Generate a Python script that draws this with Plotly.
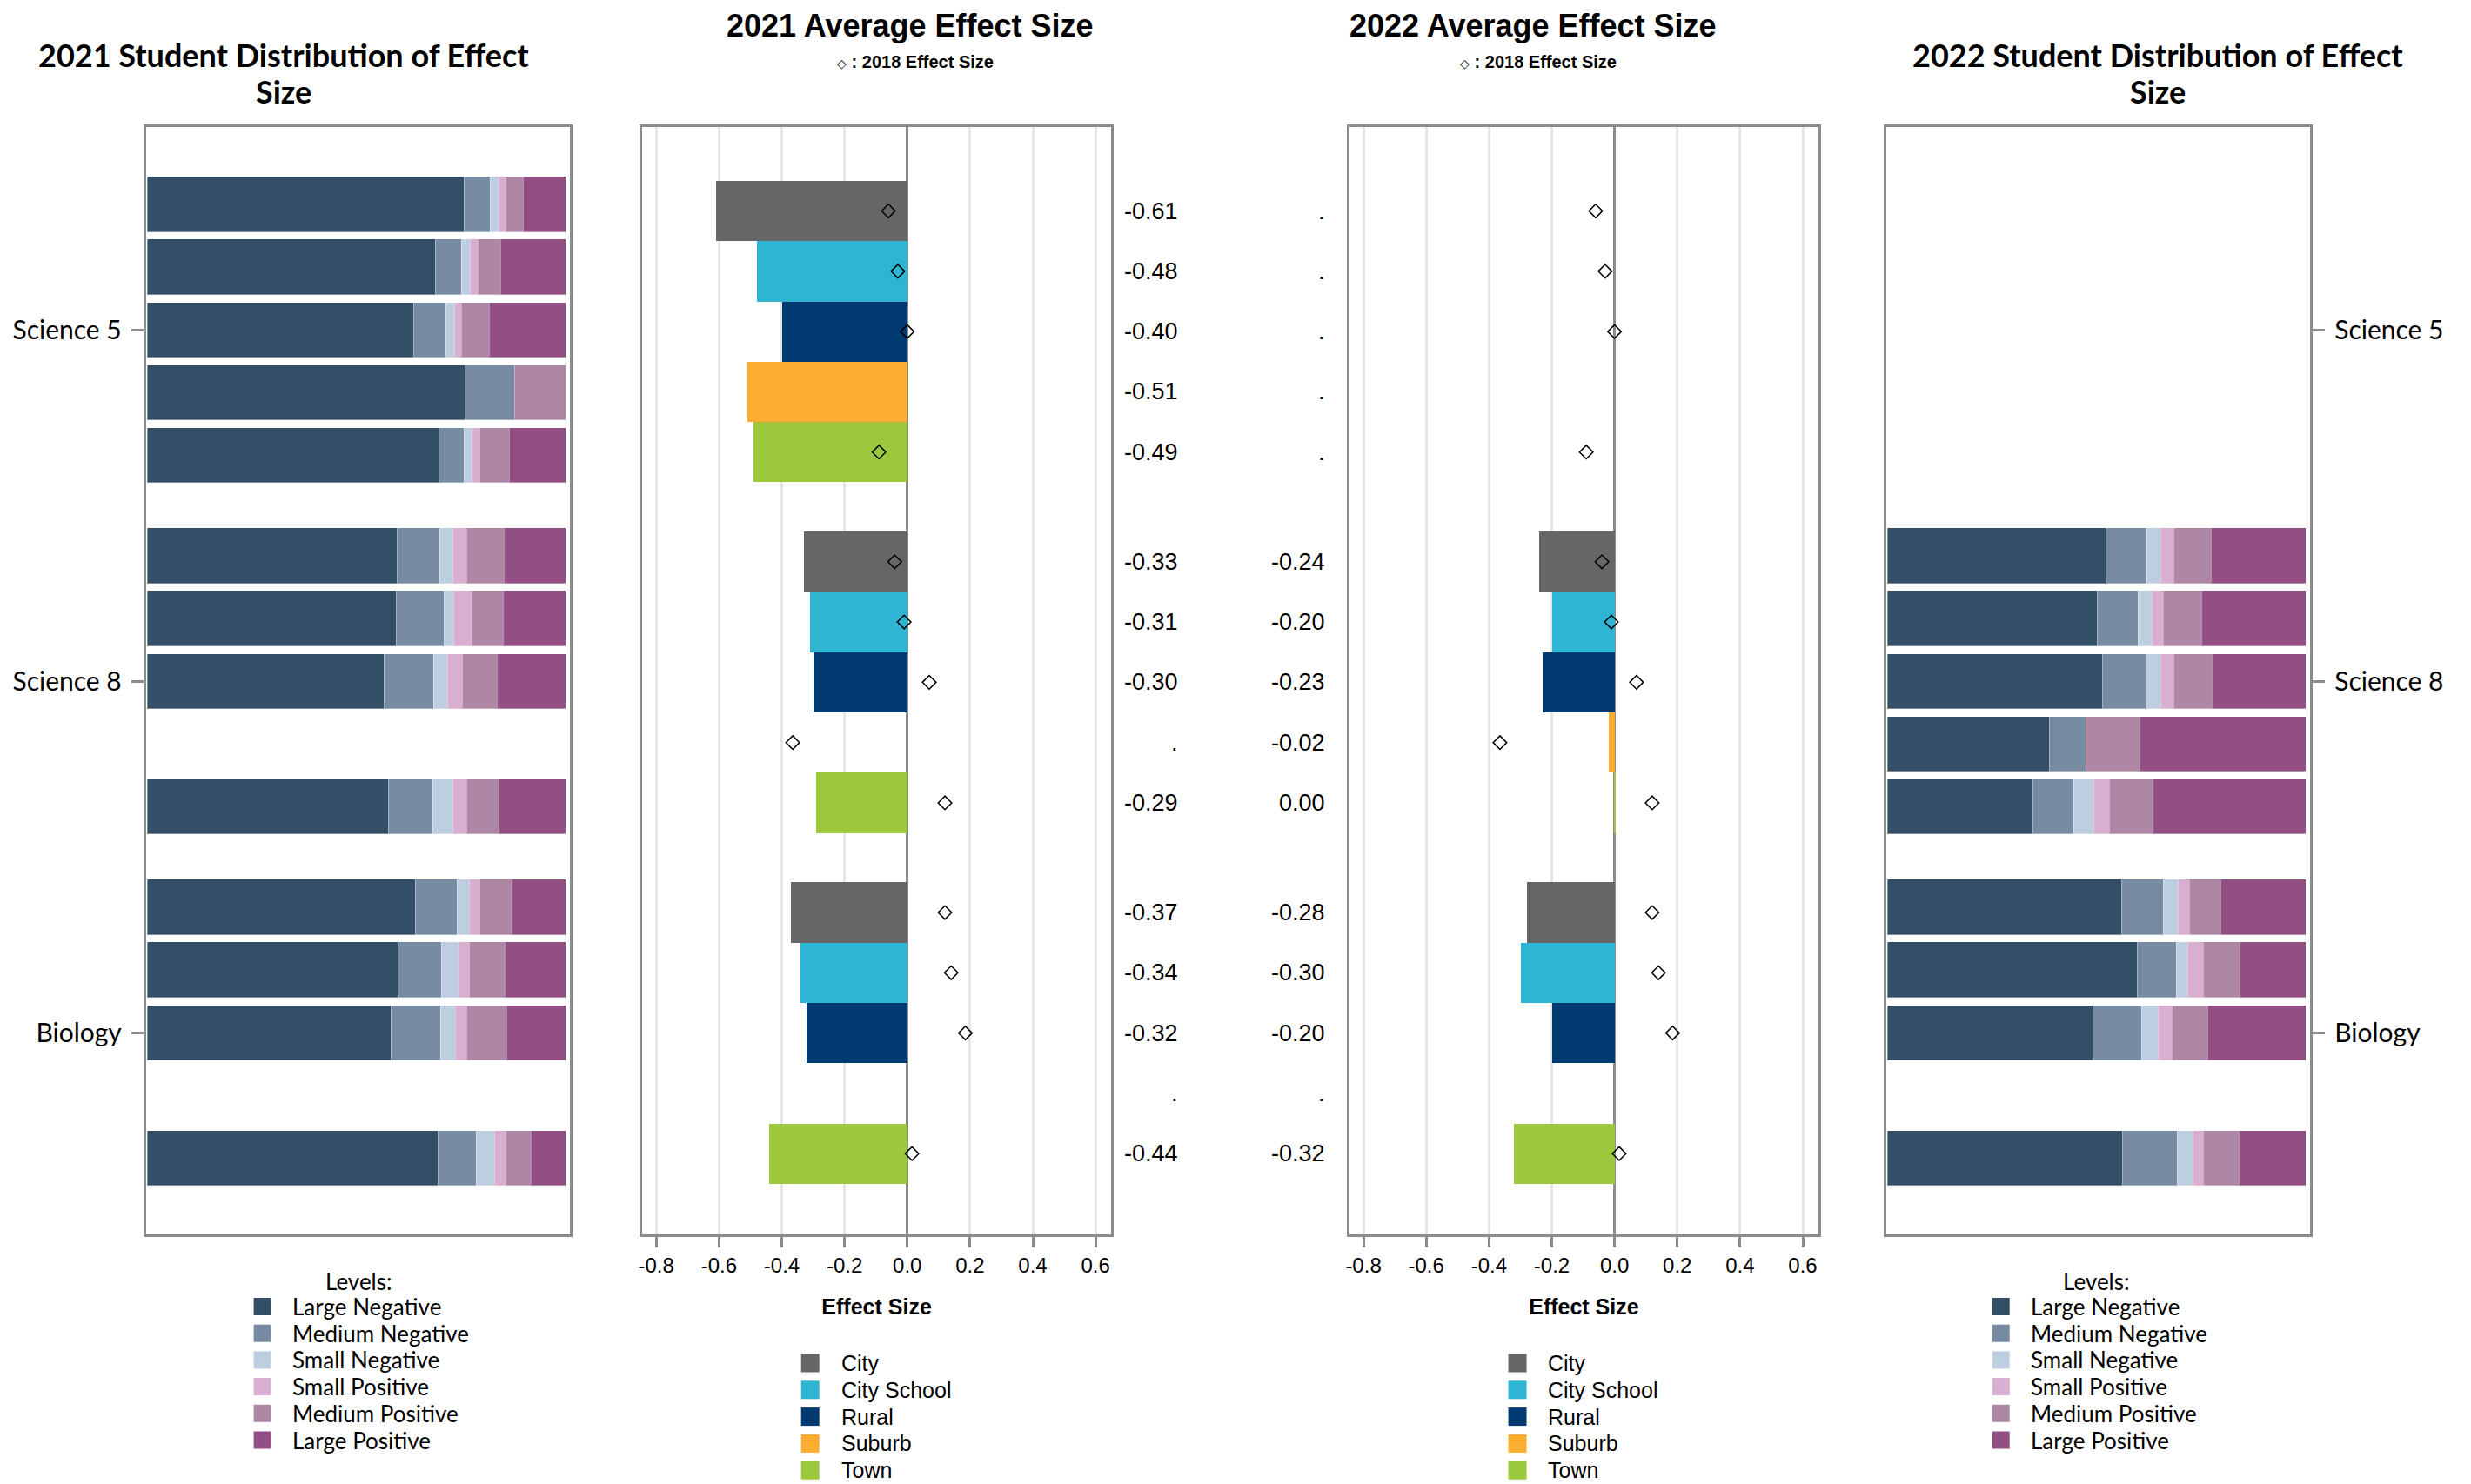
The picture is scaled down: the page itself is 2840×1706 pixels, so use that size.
import plotly.graph_objects as go

W, H = 2840, 1706

subjects = ["Science 5", "Science 8", "Biology"]
locales = ["City", "City School", "Rural", "Suburb", "Town"]
levels = ["Large Negative", "Medium Negative", "Small Negative",
          "Small Positive", "Medium Positive", "Large Positive"]

# rows ordered subject-major, locale-minor (Science 5: City..Town, Science 8, Biology)
avg_2021 = [-0.61, -0.48, -0.40, -0.51, -0.49,
            -0.33, -0.31, -0.30, None, -0.29,
            -0.37, -0.34, -0.32, None, -0.44]
avg_2022 = [None, None, None, None, None,
            -0.24, -0.20, -0.23, -0.02, 0.004,
            -0.28, -0.30, -0.20, None, -0.32]
effect_2018 = [-0.06, -0.03, 0.00, None, -0.09,
               -0.04, -0.01, 0.07, -0.365, 0.12,
               0.12, 0.14, 0.185, None, 0.015]

dist_2021_large_neg = [75.7, 68.7, 63.6, 75.8, 69.5, 59.6, 59.4, 56.5, None, 57.6, 63.9, 59.9, 58.2, None, 69.4]
dist_2021_medium_neg = [6.2, 6.3, 7.6, 11.9, 6.2, 10.2, 11.4, 11.9, None, 10.5, 10.1, 10.3, 11.7, None, 9.2]
dist_2021_small_neg = [2.1, 2.0, 2.1, 0, 1.7, 3.1, 2.3, 3.2, None, 4.9, 2.8, 4.1, 3.6, None, 4.2]
dist_2021_small_pos = [1.6, 2.0, 1.6, 0, 1.9, 3.4, 4.4, 3.5, None, 3.3, 2.6, 2.5, 2.8, None, 2.7]
dist_2021_medium_pos = [4.2, 5.4, 6.8, 12.3, 7.1, 8.8, 7.4, 8.4, None, 7.6, 7.7, 8.6, 9.5, None, 6.2]
dist_2021_large_pos = [10.2, 15.6, 18.3, 0, 13.6, 14.9, 15.1, 16.5, None, 16.1, 12.9, 14.6, 14.2, None, 8.3]

dist_2022_large_neg = [None, None, None, None, None, 52.1, 50.0, 51.4, 38.6, 34.7, 55.9, 59.6, 49.1, None, 56.1]
dist_2022_medium_neg = [None, None, None, None, None, 9.8, 9.8, 10.3, 8.8, 9.7, 9.9, 9.3, 11.5, None, 13.1]
dist_2022_small_neg = [None, None, None, None, None, 3.3, 3.3, 3.5, 0, 4.9, 3.6, 2.8, 4.0, None, 3.7]
dist_2022_small_pos = [None, None, None, None, None, 3.1, 2.8, 3.1, 0, 3.6, 2.7, 3.7, 3.4, None, 2.4]
dist_2022_medium_pos = [None, None, None, None, None, 9.0, 9.0, 9.3, 12.9, 10.4, 7.5, 8.7, 8.4, None, 8.7]
dist_2022_large_pos = [None, None, None, None, None, 22.7, 25.1, 22.4, 39.7, 36.7, 20.4, 15.9, 23.6, None, 16.0]

dist_2021 = [dist_2021_large_neg, dist_2021_medium_neg, dist_2021_small_neg,
             dist_2021_small_pos, dist_2021_medium_pos, dist_2021_large_pos]
dist_2022 = [dist_2022_large_neg, dist_2022_medium_neg, dist_2022_small_neg,
             dist_2022_small_pos, dist_2022_medium_pos, dist_2022_large_pos]

level_colors = ["#334f68", "#778ca2", "#bccee0", "#d8afd0", "#ad87a3", "#924f84"]
locale_colors = ["#666666", "#2fb5d4", "#003a70", "#fbad32", "#9bc83d"]

# ---- layout helpers ----
DIST_STEP = 5.6
AVG_STEP = 5.82
rows = [(g, l) for g in range(len(subjects)) for l in range(len(locales))]
y_dist = [g * DIST_STEP + l for g, l in rows]
y_avg = [g * AVG_STEP + l for g, l in rows]
tick_dist = [g * DIST_STEP + 2 for g in range(len(subjects))]


def px(x):
    return x / W


def py(y):
    return 1 - y / H


ARIAL = "Liberation Sans, Arial, sans-serif"
LATO = "Lato, sans-serif"
FRAME = "#8c8c8c"

fig = go.Figure()

# panel 1 & 4: stacked distribution bars
for axis_id, dist in (("", dist_2021), ("4", dist_2022)):
    for k, lvl in enumerate(levels):
        fig.add_trace(go.Bar(
            x=dist[k], y=y_dist, orientation="h", width=0.88,
            marker=dict(color=level_colors[k], line=dict(width=1, color="rgba(255,255,255,0.35)")),
            name=lvl, showlegend=False,
            xaxis="x" + axis_id, yaxis="y" + axis_id,
        ))

# panel 2 & 3: average effect size bars + 2018 diamonds
for axis_id, vals in (("2", avg_2021), ("3", avg_2022)):
    for j, loc in enumerate(locales):
        xs = [v if l == j else None for v, (g, l) in zip(vals, rows)]
        fig.add_trace(go.Bar(
            x=xs, y=y_avg, orientation="h", width=1.0,
            marker=dict(color=locale_colors[j], line=dict(width=0)),
            name=loc, showlegend=False,
            xaxis="x" + axis_id, yaxis="y" + axis_id,
        ))
    fig.add_trace(go.Scatter(
        x=effect_2018, y=y_avg, mode="markers",
        marker=dict(symbol="diamond-open", size=12, color="black", line=dict(width=1.5, color="black")),
        name="2018 Effect Size", showlegend=False,
        xaxis="x" + axis_id, yaxis="y" + axis_id,
    ))

dist_y_range = [16.41, -1.233]
avg_y_range = [16.98, -1.394]
ydom = [py(1419), py(146)]

common_frame = dict(showline=True, mirror=True, linecolor=FRAME, linewidth=3)

P2 = [735, 1275]
P3 = [1549, 2089]

layout = dict(
    width=W, height=H,
    margin=dict(l=0, r=0, t=0, b=0),
    paper_bgcolor="white", plot_bgcolor="white",
    barmode="stack", bargap=0,
    showlegend=False,
    font=dict(family=ARIAL, size=24, color="black"),
    xaxis=dict(domain=[px(164), px(652)], range=[-0.4, 100.8], showgrid=False, zeroline=False,
               showticklabels=False, ticks="", **common_frame),
    yaxis=dict(domain=ydom, range=dist_y_range, tickvals=tick_dist, ticktext=subjects,
               ticks="outside", ticklen=14, tickwidth=2.5, tickcolor=FRAME, ticklabelstandoff=5,
               tickfont=dict(family=LATO, size=30, color="black"),
               showgrid=False, zeroline=False, **common_frame),
    xaxis4=dict(domain=[px(2167), px(2655)], range=[-0.4, 100.8], showgrid=False, zeroline=False,
                showticklabels=False, ticks="", anchor="y4", **common_frame),
    yaxis4=dict(domain=ydom, range=dist_y_range, tickvals=tick_dist, ticktext=subjects, side="right",
                ticks="outside", ticklen=14, tickwidth=2.5, tickcolor=FRAME, ticklabelstandoff=5,
                tickfont=dict(family=LATO, size=30, color="black"),
                showgrid=False, zeroline=False, anchor="x4", **common_frame),
)

for axis_id, dom in (("2", P2), ("3", P3)):
    layout["xaxis" + axis_id] = dict(
        domain=[px(dom[0]), px(dom[1])], range=[-0.845, 0.65], anchor="y" + axis_id,
        tickvals=[-0.8, -0.6, -0.4, -0.2, 0.0, 0.2, 0.4, 0.6],
        ticktext=["-0.8", "-0.6", "-0.4", "-0.2", "0.0", "0.2", "0.4", "0.6"],
        ticks="outside", ticklen=12, tickwidth=2.5, tickcolor=FRAME,
        tickfont=dict(family=ARIAL, size=24, color="black"),
        showgrid=True, gridcolor="#e6e6e6", gridwidth=2.5,
        zeroline=True, zerolinecolor=FRAME, zerolinewidth=2.5,
        title=dict(text="<b>Effect Size</b>", font=dict(family=ARIAL, size=25, color="black"), standoff=27),
        **common_frame)
    layout["yaxis" + axis_id] = dict(
        domain=ydom, range=avg_y_range, anchor="x" + axis_id,
        showticklabels=False, ticks="", showgrid=False, zeroline=False, **common_frame)

fig.update_layout(**layout)

annotations = []
shapes = []

# value labels beside the average panels
for i, v in enumerate(avg_2021):
    annotations.append(dict(
        text="." if v is None else f"{v:.2f}", xref="x2 domain", yref="y2",
        x=(1354 - P2[0]) / (P2[1] - P2[0]), y=y_avg[i], xanchor="right", yanchor="middle", showarrow=False,
        font=dict(family=ARIAL, size=27, color="black")))
for i, v in enumerate(avg_2022):
    annotations.append(dict(
        text="." if v is None else f"{v:.2f}", xref="x3 domain", yref="y3",
        x=(1523 - P3[0]) / (P3[1] - P3[0]), y=y_avg[i], xanchor="right", yanchor="middle", showarrow=False,
        font=dict(family=ARIAL, size=27, color="black")))

# titles
for cx, year in ((322, "2021"), (2479, "2022")):
    annotations.append(dict(text=f"<b>{year} Student Distribution of Effect</b>", xref="paper", yref="paper",
                            x=px(cx), y=py(63), xanchor="center", yanchor="middle", showarrow=False,
                            font=dict(family=LATO, size=36, color="black")))
    annotations.append(dict(text="<b>Size</b>", xref="paper", yref="paper",
                            x=px(cx), y=py(105), xanchor="center", yanchor="middle", showarrow=False,
                            font=dict(family=LATO, size=36, color="black")))
for cx, scx, year in ((1043, 1049, "2021"), (1760, 1766, "2022")):
    annotations.append(dict(text=f"<b>{year} Average Effect Size</b>", xref="paper", yref="paper",
                            x=px(cx), y=py(30), xanchor="center", yanchor="middle", showarrow=False,
                            font=dict(family=ARIAL, size=36, color="black")))
    annotations.append(dict(text='<span style="font-size:14px">◇</span><b> : 2018 Effect Size</b>',
                            xref="paper", yref="paper",
                            x=px(scx), y=py(71), xanchor="center", yanchor="middle", showarrow=False,
                            font=dict(family=ARIAL, size=20, color="black")))

# legends (level legends under panels 1 and 4)
for left, title_cx in ((288, 409), (2289, 2409)):
    annotations.append(dict(text="Levels:", xref="paper", yref="paper", x=px(title_cx), y=py(1473),
                            xanchor="center", yanchor="middle", showarrow=False,
                            font=dict(family=LATO, size=26, color="black")))
    for k, lvl in enumerate(levels):
        cy = 1502 + 30.7 * k
        shapes.append(dict(type="rect", xref="paper", yref="paper",
                           x0=px(left), x1=px(left + 20), y0=py(cy + 10), y1=py(cy - 10),
                           fillcolor=level_colors[k], line=dict(width=0)))
        annotations.append(dict(text=lvl, xref="paper", yref="paper", x=px(left + 42), y=py(cy),
                                xanchor="left", yanchor="middle", showarrow=False,
                                font=dict(family=LATO, size=26, color="black")))

# locale legends under panels 2 and 3
for left in (918, 1732):
    for j, loc in enumerate(locales):
        cy = 1567 + 30.8 * j
        shapes.append(dict(type="rect", xref="paper", yref="paper",
                           x0=px(left), x1=px(left + 21), y0=py(cy + 10.5), y1=py(cy - 10.5),
                           fillcolor=locale_colors[j], line=dict(width=0)))
        annotations.append(dict(text=loc, xref="paper", yref="paper", x=px(left + 44), y=py(cy),
                                xanchor="left", yanchor="middle", showarrow=False,
                                font=dict(family=ARIAL, size=25, color="black")))

fig.update_layout(annotations=annotations, shapes=shapes)

fig.write_html("out.html", config={"displayModeBar": False},
               post_script="document.body.style.margin='0px';document.body.style.overflow='hidden';")
